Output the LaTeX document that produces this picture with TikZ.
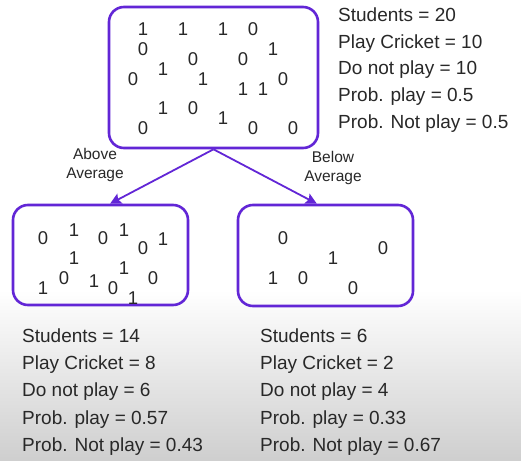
\documentclass[tikz,border=0pt]{standalone}
\usepackage{fontspec}
\setmainfont{Liberation Sans}
\usetikzlibrary{arrows.meta,calc}
\definecolor{boxpurple}{RGB}{98,38,214}
\definecolor{ink}{RGB}{40,40,40}
\begin{document}
\begin{tikzpicture}[x=1pt,y=-1pt,
  setbox/.style={draw=boxpurple,line width=2.6pt,rounded corners=15pt,inner sep=0pt},
  bit/.style={text=ink,font=\fontsize{18.5}{20}\selectfont,inner sep=0pt},
  stat/.style={text=ink,font=\fontsize{19}{22}\selectfont,anchor=base west,inner sep=0pt},
  branch/.style={text=ink,font=\fontsize{15.5}{19}\selectfont,align=center,inner sep=0pt},
  split/.style={draw=boxpurple,line width=1.8pt,-{Stealth[length=11pt,width=11pt,inset=2pt]}}]
  % page and soft grey floor
  \useasboundingbox (0,0) rectangle (521,460);
  \fill[white] (0,0) rectangle (521,460);
  \shade[top color=white,bottom color=gray!38] (0,290) rectangle (521,460);

  % the three sets
  \node[setbox,minimum width=209pt,minimum height=141pt] (root) at (213.5,77.5) {};
  \node[setbox,minimum width=175pt,minimum height=100pt] (above) at (100.5,255) {};
  \node[setbox,minimum width=175pt,minimum height=101pt] (below) at (325.5,255.5) {};

  % students in the whole class
  \foreach \x/\y/\b [count=\i] in {143/29/1,183/29/1,223/29/1,253/29/0,143/49/0,273/49/1,
      193/59/0,243/59/0,163/69/1,133/79/0,203/79/1,283/79/0,243/89/1,263/89/1,
      163/108/1,193/108/0,223/118/1,143/128/0,253/128/0,293/128/0}
    \node[bit] (r\i) at (\x,\y) {\b};

  % above-average students
  \foreach \x/\y/\b [count=\i] in {43/238/0,74/230/1,103/238/0,124/230/1,143/248/0,163/239/1,
      74/258/1,43/288/1,64/278/0,94/281/1,124/268/1,113/288/0,153/278/0,133/298/1}
    \node[bit] (a\i) at (\x,\y) {\b};

  % below-average students
  \foreach \x/\y/\b [count=\i] in {283/238/0,383/248/0,333/258/1,273/278/1,303/278/0,353/288/0}
    \node[bit] (b\i) at (\x,\y) {\b};

  % split arrows and their labels
  \draw[split] (root.south) -- ($(above.north west)!0.554!(above.north east)$);
  \draw[split] (root.south) -- ($(below.north west)!0.451!(below.north east)$);
  \node[branch] (labA) at (95,165) {Above\\Average};
  \node[branch] (labB) at (333,168) {Below\\Average};

  % counts for each set
  \foreach \t [count=\i from 0] in {Students = 20,Play Cricket = 10,Do not play = 10,
      Prob. play = 0.5,Prob. Not play = 0.5}
    \node[stat] (sr\i) at (338,21.5+26.7*\i) {\t};
  \foreach \t [count=\i from 0] in {Students = 14,Play Cricket = 8,Do not play = 6,
      Prob. play = 0.57,Prob. Not play = 0.43}
    \node[stat] (sa\i) at (22,342+27.4*\i) {\t};
  \foreach \t [count=\i from 0] in {Students = 6,Play Cricket = 2,Do not play = 4,
      Prob. play = 0.33,Prob. Not play = 0.67}
    \node[stat] (sb\i) at (260,342+27.4*\i) {\t};
\end{tikzpicture}
\end{document}
